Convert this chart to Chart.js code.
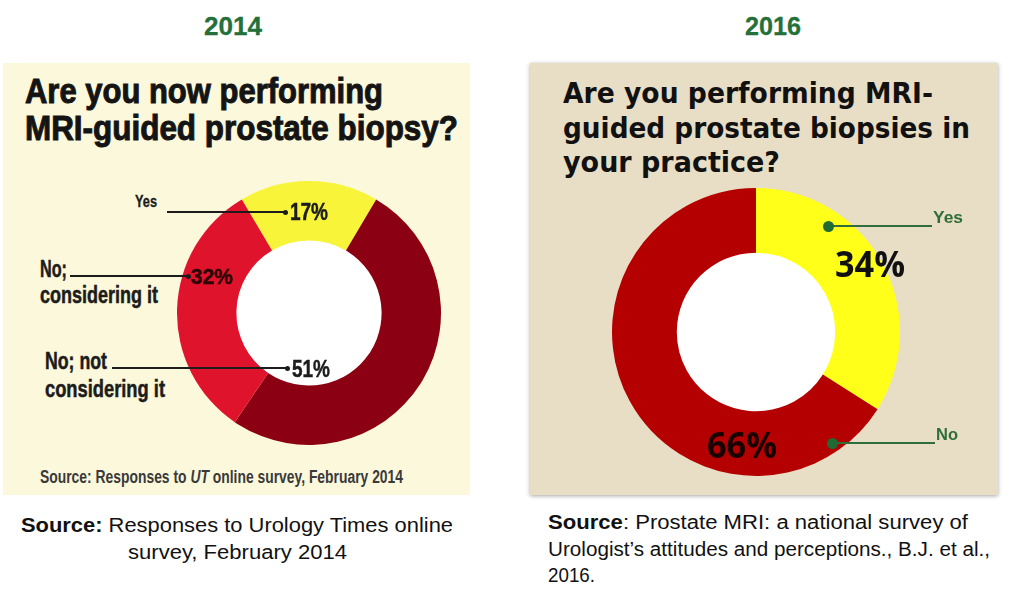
<!DOCTYPE html>
<html>
<head>
<meta charset="utf-8">
<script src="https://cdn.jsdelivr.net/npm/chart.js@4/dist/chart.umd.min.js"></script>
<style>
  html, body { margin:0; padding:0; background:#ffffff; }
  #stage { position:relative; width:1024px; height:603px; overflow:hidden; background:#ffffff; }
  .panel { position:absolute; }
  #p1 { left:3px; top:63px; width:467px; height:432px; background:#fcf8dc; }
  #p2 { left:530px; top:63px; width:468px; height:432px; background:#e8ddc5; box-shadow:0 1px 4px rgba(0,0,0,0.35); }
  canvas { position:absolute; }
  .t { position:absolute; white-space:nowrap; line-height:normal; transform-origin:0 0; }
  .ln { position:absolute; }
  .dot { position:absolute; border-radius:50%; }
</style>
</head>
<body>
<div id="stage">
  <div class="panel" id="p1"></div>
  <div class="panel" id="p2"></div>
  <canvas id="c2014" width="264" height="264" style="left:177px;top:181px;width:264px;height:264px;"></canvas>
  <canvas id="c2016" width="288" height="288" style="left:612px;top:188px;width:288px;height:288px;"></canvas>
</div>
<script>
// ---------- data ----------
const years = ['2014', '2016'];
const labels2014 = ['Yes', 'No; not considering it', 'No; considering it'];
const values2014 = [17, 51, 32];
const labels2016 = ['Yes', 'No'];
const values2016 = [34, 66];

// ---------- styles ----------
const NARROW = "'Liberation Sans Narrow','Liberation Sans',Arial,sans-serif";
const ARIAL = "'Liberation Sans',Arial,sans-serif";
const GOTHIC = "'DejaVu Sans','Liberation Sans',sans-serif";
const CAL = "'Open Sans','Liberation Sans',sans-serif";
const GREEN = '#24703a';

const stage = document.getElementById('stage');

function label(html, o) {
  const d = document.createElement('div');
  d.className = 't';
  d.style.fontFamily = o.family;
  d.style.fontSize = o.size + 'px';
  d.style.fontWeight = o.weight || 'normal';
  d.style.color = o.color || '#000';
  if (o.stroke) d.style.webkitTextStroke = o.stroke + 'px ' + (o.color || '#000');
  d.innerHTML = html + '<span style="display:inline-block;width:0;height:0;vertical-align:baseline"></span>';
  d.style.left = '0px';
  d.style.top = '0px';
  stage.appendChild(d);
  const marker = d.lastChild;
  const sr = stage.getBoundingClientRect();
  const baseTop = marker.getBoundingClientRect().top - sr.top;
  const natW = d.getBoundingClientRect().width;
  const w = o.w || natW;
  let left = o.x;
  if (o.align === 'right') left = o.x - w;
  else if (o.align === 'center') left = o.x - w / 2;
  d.style.left = left + 'px';
  d.style.top = (o.y - baseTop) + 'px';
  d.style.transform = 'scaleX(' + (w / natW) + ')';
  return d;
}
function hline(x1, x2, y, th, color) {
  const l = document.createElement('div');
  l.className = 'ln';
  l.style.left = x1 + 'px';
  l.style.top = (y - th / 2) + 'px';
  l.style.width = (x2 - x1) + 'px';
  l.style.height = th + 'px';
  l.style.background = color;
  stage.appendChild(l);
}
function dot(x, y, r, color) {
  const d = document.createElement('div');
  d.className = 'dot';
  d.style.left = (x - r) + 'px';
  d.style.top = (y - r) + 'px';
  d.style.width = (2 * r) + 'px';
  d.style.height = (2 * r) + 'px';
  d.style.background = color;
  stage.appendChild(d);
}
const pct = v => v + '%';

// white hole in the middle of each doughnut
const holePlugin = {
  id: 'whiteHole',
  beforeDatasetsDraw(chart) {
    const a = chart.getDatasetMeta(0).data[0];
    if (!a) return;
    const ctx = chart.ctx;
    ctx.save();
    ctx.fillStyle = '#ffffff';
    ctx.beginPath();
    ctx.arc(a.x, a.y, a.innerRadius + 0.5, 0, Math.PI * 2);
    ctx.fill();
    ctx.restore();
  }
};

// ---------- charts ----------
Chart.defaults.font.family = ARIAL;
new Chart(document.getElementById('c2014'), {
  type: 'doughnut',
  data: {
    labels: labels2014,
    datasets: [{
      data: values2014,
      backgroundColor: ['#f7f43a', '#8b0012', '#e0132c'],
      borderWidth: 0,
      hoverOffset: 0
    }]
  },
  options: {
    responsive: false,
    animation: false,
    events: [],
    devicePixelRatio: 1,
    cutout: '55%',
    rotation: -(values2014[0] / 100 * 360) / 2,
    layout: { padding: 0 },
    plugins: { legend: { display: false }, tooltip: { enabled: false } }
  },
  plugins: [holePlugin]
});
new Chart(document.getElementById('c2016'), {
  type: 'doughnut',
  data: {
    labels: labels2016,
    datasets: [{
      data: values2016,
      backgroundColor: ['#ffff1a', '#b40000'],
      borderWidth: 0,
      hoverOffset: 0
    }]
  },
  options: {
    responsive: false,
    animation: false,
    events: [],
    devicePixelRatio: 1,
    cutout: '55%',
    rotation: 0,
    layout: { padding: 0 },
    plugins: { legend: { display: false }, tooltip: { enabled: false } }
  },
  plugins: [holePlugin]
});

// ---------- texts ----------
function drawTexts() {
  // year headings
  label(years[0], { x: 233, y: 35, size: 26, family: NARROW, weight: 'bold', color: GREEN, w: 58, align: 'center', stroke: 0.3 });
  label(years[1], { x: 773, y: 35, size: 26, family: NARROW, weight: 'bold', color: GREEN, w: 56, align: 'center', stroke: 0.3 });

  // 2014 panel
  const tc = '#141414';
  label('Are you now performing', { x: 25, y: 103, size: 35, family: NARROW, weight: 'bold', color: tc, w: 358, stroke: 1 });
  label('MRI-guided prostate biopsy?', { x: 25, y: 140, size: 35, family: NARROW, weight: 'bold', color: tc, w: 433, stroke: 1 });

  const lc = '#1c1c1c';
  label(labels2014[0], { x: 157, y: 207, size: 16, family: NARROW, weight: 'bold', color: lc, w: 22, align: 'right', stroke: 0.3 });
  hline(167, 284, 212, 1.5, lc); dot(285, 212, 2.5, lc);
  label(pct(values2014[0]), { x: 290, y: 220, size: 23, family: NARROW, weight: 'bold', color: lc, w: 38, stroke: 0.5 });

  label('No;', { x: 40, y: 277, size: 23, family: NARROW, weight: 'bold', color: lc, w: 27, stroke: 0.5 });
  label('considering it', { x: 40, y: 303, size: 23, family: NARROW, weight: 'bold', color: lc, w: 118, stroke: 0.5 });
  hline(70, 187, 276, 1.5, lc); dot(188, 276, 2.5, lc);
  label(pct(values2014[2]), { x: 191, y: 284, size: 22, family: NARROW, weight: 'bold', color: '#2a0606', w: 42, stroke: 0.5 });

  label('No; not', { x: 45, y: 369, size: 23, family: NARROW, weight: 'bold', color: lc, w: 62, stroke: 0.5 });
  label('considering it', { x: 45, y: 397, size: 23, family: NARROW, weight: 'bold', color: lc, w: 120, stroke: 0.5 });
  hline(112, 286, 368, 1.5, lc); dot(287, 368, 2.5, lc);
  label(pct(values2014[1]), { x: 292, y: 377, size: 23, family: NARROW, weight: 'bold', color: lc, w: 38, stroke: 0.5 });

  label('Source: Responses to <i>UT</i> online survey, February 2014', { x: 40, y: 483, size: 18, family: NARROW, weight: 'bold', color: '#3a3a3a', w: 363 });

  // 2016 panel
  label('Are you performing MRI-', { x: 563, y: 103, size: 29, family: GOTHIC, weight: 'bold', color: '#111', w: 370 });
  label('guided prostate biopsies in', { x: 563, y: 138, size: 29, family: GOTHIC, weight: 'bold', color: '#111', w: 407 });
  label('your practice?', { x: 563, y: 172, size: 29, family: GOTHIC, weight: 'bold', color: '#111', w: 217 });

  hline(828, 932, 226, 2, '#2f6e3a'); dot(828, 226, 5.5, '#1f6b33');
  label(labels2016[0], { x: 933, y: 223, size: 17, family: ARIAL, weight: 'bold', color: '#2f6e3a', w: 30 });
  hline(832, 935, 443, 2, '#2f6e3a'); dot(832, 443, 5.5, '#1f6b33');
  label(labels2016[1], { x: 936, y: 440, size: 17, family: ARIAL, weight: 'bold', color: '#2f6e3a', w: 22 });

  label(pct(values2016[0]), { x: 835, y: 277, size: 35, family: CAL, weight: 'bold', color: '#111', w: 70 });
  label(pct(values2016[1]), { x: 707, y: 458, size: 35, family: CAL, weight: 'bold', color: '#1a0000', w: 70 });

  // bottom captions
  label('<b>Source:</b> Responses to Urology Times online', { x: 21, y: 532, size: 20, family: NARROW, color: '#111', w: 432 });
  label('survey, February 2014', { x: 128, y: 559, size: 20, family: NARROW, color: '#111', w: 219 });
  label('<b>Source</b>: Prostate MRI: a national survey of', { x: 548, y: 529, size: 20, family: NARROW, color: '#111', w: 420 });
  label('Urologist\u2019s attitudes and perceptions., B.J. et al.,', { x: 548, y: 556, size: 20, family: NARROW, color: '#111', w: 442 });
  label('2016.', { x: 548, y: 582, size: 20, family: NARROW, color: '#111', w: 47 });
}
drawTexts();
</script>
</body>
</html>
